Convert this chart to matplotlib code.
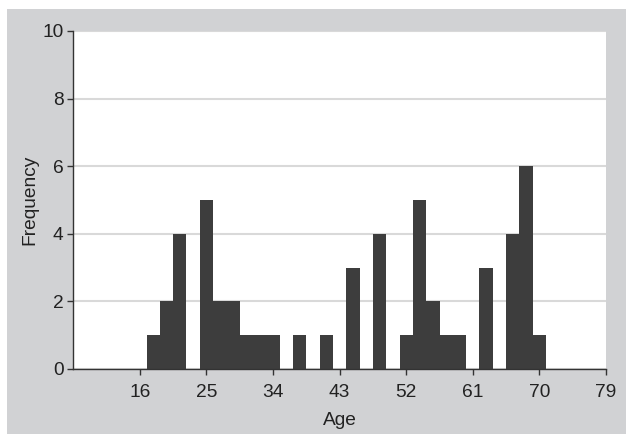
import matplotlib
matplotlib.use("Agg")
import matplotlib.pyplot as plt
from matplotlib.patches import Rectangle

# histogram bins (age) and counts
bin_start = 16.9
bin_width = 1.8
counts = [1, 2, 4, 0, 5, 2, 2, 1, 1, 1,
          0, 1, 0, 1, 0, 3, 0, 4, 0, 1,
          5, 2, 1, 1, 0, 3, 0, 4, 6, 1]
x_ticks = [16, 25, 34, 43, 52, 61, 70, 79]
y_ticks = [0, 2, 4, 6, 8, 10]

bin_left = [bin_start + i * bin_width for i in range(len(counts))]

plt.rcParams['font.family'] = ['Liberation Sans', 'DejaVu Sans']

fig = plt.figure(figsize=(6.26, 4.34), dpi=100, facecolor='white')
# grey panel behind the plot (drawn below the axes)
fig.patches.append(Rectangle((7 / 626, 0), 1, 425 / 434, transform=fig.transFigure,
                             facecolor='#d1d2d4', edgecolor='none', zorder=-10))

ax = fig.add_axes([0.1171, 0.1498, 0.968 - 0.1171, 0.9286 - 0.1498])
ax.set_zorder(1)
ax.set_facecolor('white')

ax.bar(bin_left, counts, width=bin_width, align='edge', color='#3d3d3d', zorder=3)

ax.set_xlim(7, 79)
ax.set_ylim(0, 10)
ax.set_xticks(x_ticks)
ax.set_yticks(y_ticks)
ax.yaxis.grid(True, color='#d9d9d9', linewidth=1.5, zorder=0)
ax.set_axisbelow(True)

for s in ['top', 'right']:
    ax.spines[s].set_visible(False)
for s in ['left', 'bottom']:
    ax.spines[s].set_color('#333333')
    ax.spines[s].set_linewidth(1.0)
    ax.spines[s].set_zorder(4)

ax.tick_params(axis='both', direction='out', length=4, width=1, color='#333333',
               labelsize=13.8, labelcolor='#222222')
ax.tick_params(axis='x', pad=7)
ax.tick_params(axis='y', pad=3)

ax.set_xlabel('Age', fontsize=13.8, color='#222222', labelpad=8)
ax.set_ylabel('Frequency', fontsize=13.8, color='#222222', labelpad=3)

fig.savefig('out.png', dpi=100, facecolor=fig.get_facecolor())
